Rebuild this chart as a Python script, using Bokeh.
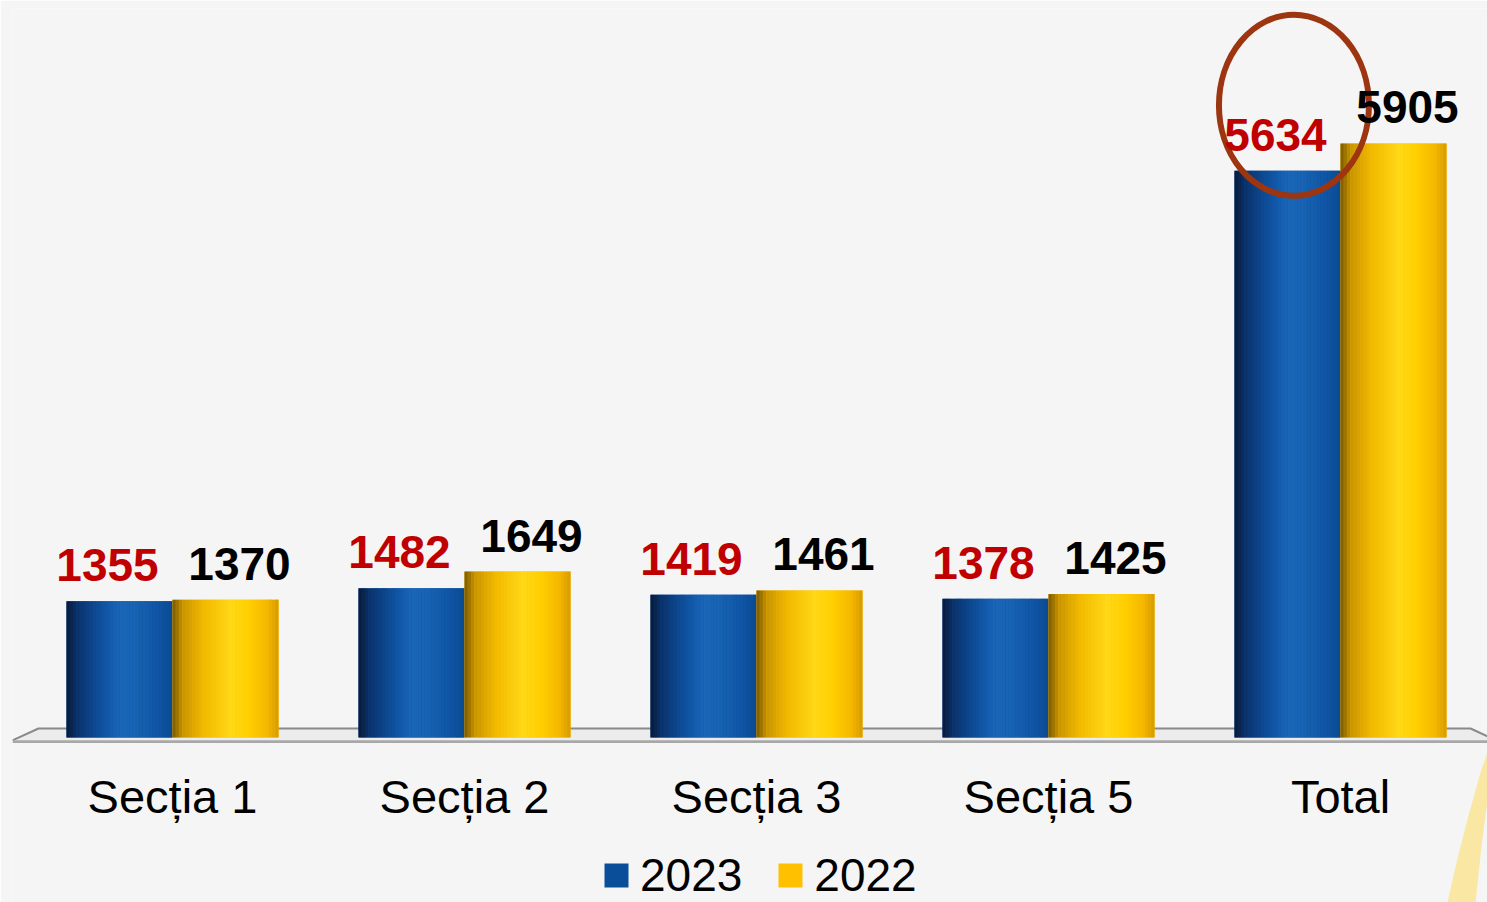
import numpy as np
from bokeh.plotting import figure
from bokeh.models import (ColumnDataSource, FixedTicker, Range1d, Legend,
                          LegendItem, LabelSet)
from bokeh.core.properties import value
from bokeh.embed import file_html
from bokeh.resources import INLINE

# ---------------- data ----------------
categories = ["Secția 1", "Secția 2", "Secția 3", "Secția 5", "Total"]
series_names = ["2023", "2022"]
values_2023 = [1355, 1482, 1419, 1378, 5634]
values_2022 = [1370, 1649, 1461, 1425, 5905]

# ---------------- style ----------------
FONT = "Liberation Sans"
BAR_W = 0.363
DODGE = 0.1815
N_STRIPS = 32
BLUE = "#0a4e9a"
YELLOW = "#ffc000"

blue_profile = [(0.0, "#061a3a"), (0.12, "#0b3470"), (0.35, "#0f53a2"),
                (0.5, "#1a66b8"), (0.62, "#1964b4"), (0.85, "#1056a6"),
                (1.0, "#0c4a92")]
yellow_profile = [(0.0, "#7a5800"), (0.1, "#c99500"), (0.3, "#f2ba00"),
                  (0.55, "#ffd817"), (0.72, "#ffd000"), (0.9, "#f4b600"),
                  (1.0, "#d69c00")]


def interp_color(profile, t):
    for (t0, c0), (t1, c1) in zip(profile[:-1], profile[1:]):
        if t0 <= t <= t1:
            f = (t - t0) / (t1 - t0)
            a = [int(c0[i:i + 2], 16) for i in (1, 3, 5)]
            b = [int(c1[i:i + 2], 16) for i in (1, 3, 5)]
            return "#%02x%02x%02x" % tuple(round(a[j] + (b[j] - a[j]) * f) for j in range(3))
    return profile[-1][1]


xs = np.arange(len(categories), dtype=float)

# frame geometry: 292 px per category, 0.1006 px per unit
FRAME_W, FRAME_H = 1475, 894
PX_X, PX_Y = 292.0, 0.1006
X0, X1 = -0.548, -0.548 + FRAME_W / PX_X
Y1 = 7246.0
Y0 = Y1 - FRAME_H / PX_Y
AXIS_Y = -80.0          # where the category axis sits (just under the floor)

p = figure(frame_width=FRAME_W, frame_height=FRAME_H,
           x_range=Range1d(X0, X1), y_range=Range1d(Y0, Y1),
           output_backend="svg", toolbar_location=None,
           min_border_left=12, min_border_right=0, min_border_top=8,
           min_border_bottom=0)
p.background_fill_color = "#f5f5f5"
p.border_fill_color = "#f5f5f5"
p.outline_line_color = None
p.grid.visible = False
p.yaxis.visible = False

# ---------------- decorative yellow swoosh (bottom right) ----------------
sw_px = [(1447, 902), (1457, 858), (1468, 815), (1480, 772), (1487, 752),
         (1487, 800), (1481, 845), (1475, 902)]
p.patch([(a - 172) / PX_X for a, b in sw_px], [(737 - b) / PX_Y for a, b in sw_px],
        fill_color="#f9e287", fill_alpha=0.75, line_color=None)

# ---------------- floor ----------------
floor_x = [X0, X0 + 0.089, X1 - 0.058, X1, X1]
floor_y = [-30, 89, 89, 10, -30]
p.patch(floor_x, floor_y, fill_color="#ececec", line_color=None)
p.line([X0, X0 + 0.089, X1 - 0.058, X1], [-30, 89, 89, 10],
       line_color="#8a8a8a", line_width=2)
p.quad(left=[X0], right=[X1], bottom=[-55], top=[-28],
       fill_color="#a8a8a8", line_color=None)

# ---------------- bars (cylinders as shaded strips) ----------------
legend_items = []
for name, vals, dodge, base, prof in [
        ("2023", values_2023, -DODGE, BLUE, blue_profile),
        ("2022", values_2022, DODGE, YELLOW, yellow_profile)]:
    base_r = p.vbar(x=xs + dodge, top=vals, bottom=0, width=BAR_W,
                    fill_color=base, line_color=None)
    sx, st, sc = [], [], []
    for k in range(N_STRIPS):
        off = -BAR_W / 2 + (k + 0.5) * BAR_W / N_STRIPS
        col = interp_color(prof, (k + 0.5) / N_STRIPS)
        for i, v in enumerate(vals):
            sx.append(xs[i] + dodge + off)
            st.append(v)
            sc.append(col)
    src = ColumnDataSource(dict(x=sx, top=st, color=sc))
    p.vbar(x="x", top="top", bottom=0, width=BAR_W / N_STRIPS * 1.05,
           fill_color="color", line_color=None, source=src)
    legend_items.append(LegendItem(label=name, renderers=[base_r]))

# ---------------- value labels ----------------
for vals, dodge, color, xo in [(values_2023, -DODGE, "#c00000", -12),
                               (values_2022, DODGE, "#000000", 14)]:
    lsrc = ColumnDataSource(dict(x=xs + dodge, y=vals,
                                 t=[str(v) for v in vals]))
    p.add_layout(LabelSet(x="x", y="y", text="t", source=lsrc,
                          x_offset=xo, y_offset=36,
                          text_align="center", text_baseline="middle",
                          text_font=value(FONT), text_font_size=value("46px"),
                          text_font_style=value("bold"), text_color=value(color)))

# ---------------- highlight circle around the Total 2023 label ----------------
p.ellipse(x=[xs[-1] - DODGE + 0.022], y=[values_2023[-1] + 650],
          width=150, height=181, width_units="screen", height_units="screen",
          fill_color=None, line_color="#9c3510", line_width=6)

# ---------------- category axis (fixed just below the floor) ----------------
p.xaxis.fixed_location = AXIS_Y
p.xaxis.ticker = FixedTicker(ticks=[int(i) for i in xs])
p.xaxis.major_label_overrides = {int(i): c for i, c in enumerate(categories)}
p.xaxis.axis_line_color = None
p.xaxis.major_tick_line_color = None
p.xaxis.minor_tick_line_color = None
p.xaxis.major_tick_out = 0
p.xaxis.major_tick_in = 0
p.xaxis.major_label_standoff = 25
p.xaxis.major_label_text_font = FONT
p.xaxis.major_label_text_font_size = "47px"
p.xaxis.major_label_text_color = "#000000"

# ---------------- legend ----------------
legend = Legend(items=legend_items, orientation="horizontal",
                location=(589, 0), glyph_width=30, glyph_height=30,
                label_standoff=9, spacing=33, padding=0, margin=0,
                border_line_color=None, background_fill_alpha=0,
                label_text_font=FONT, label_text_font_size="46px",
                label_text_color="#000000")
p.add_layout(legend, "center")

html = file_html(p, INLINE)
html = html.replace("<body>", '<body style="margin:0;background-color:#f5f5f5;">', 1)
open("out.html", "w").write(html)
